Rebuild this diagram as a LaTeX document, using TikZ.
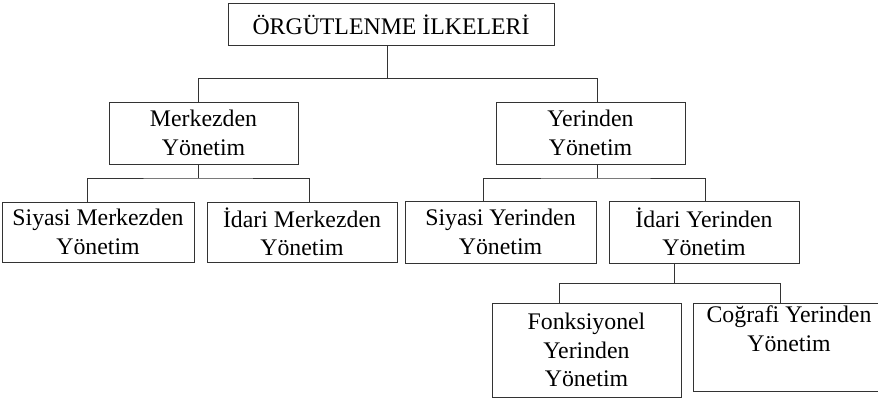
\documentclass[tikz,border=0pt]{standalone}
\usepackage{fontspec}
\setmainfont{Liberation Serif}
\usetikzlibrary{positioning}

\begin{document}
\begin{tikzpicture}[
    x=1pt, y=1pt,
    box/.style={draw=black!80, line width=1pt, inner sep=0pt, align=center, font=\fontsize{23.8}{28.5}\selectfont},
    link/.style={draw=black!80, line width=1pt}
]
\useasboundingbox (0,0) rectangle (878,400);
\node[box, minimum width=326, minimum height=42] (top) at (391,375) {ÖRGÜTLENME İLKELERİ};
\node[box, minimum width=189, minimum height=62] (mer) at (203.5,267) {Merkezden\\Yönetim};
\node[box, minimum width=189, minimum height=62] (yer) at (590.5,267) {Yerinden\\Yönetim};
\node[box, minimum width=192, minimum height=60] (sm) at (98,168) {Siyasi Merkezden\\Yönetim};
\node[box, minimum width=190, minimum height=60] (im) at (302,168) {İdari Merkezden\\Yönetim};
\node[box, minimum width=191, minimum height=62] (sy) at (500.5,168) {Siyasi Yerinden\\Yönetim};
\node[box, minimum width=190, minimum height=62] (iy) at (704,168) {İdari Yerinden\\Yönetim};
\node[box, minimum width=189, minimum height=94] (fy) at (586.5,50) {Fonksiyonel\\Yerinden\\Yönetim};
\node[box, minimum width=192, minimum height=88] (cy) at (789,53) {Coğrafi Yerinden\\Yönetim\\\strut};

% top level
\draw[link] ([xshift=-4]top.south) -- ++(0,-32) coordinate (b1);
\draw[link] ([xshift=-5.5]mer.north) |- (b1) -| ([xshift=6.5]yer.north);
% merkezden
\draw[link] ([xshift=-5.5]mer.south) -- ++(0,-13.5) coordinate (b2);
\draw[link] ([xshift=-11]sm.north) |- (b2) -| ([xshift=7]im.north);
% yerinden
\draw[link] ([xshift=6.5]yer.south) -- ++(0,-13.5) coordinate (b3);
\draw[link] ([xshift=-17.5]sy.north) |- (b3) -| ([xshift=1]iy.north);
% idari yerinden
\draw[link] ([xshift=-30]iy.south) -- ++(0,-20) coordinate (b4);
\draw[link] ([xshift=-27.5]fy.north) |- (b4) -| ([xshift=-9]cy.north);
\end{tikzpicture}
\end{document}
